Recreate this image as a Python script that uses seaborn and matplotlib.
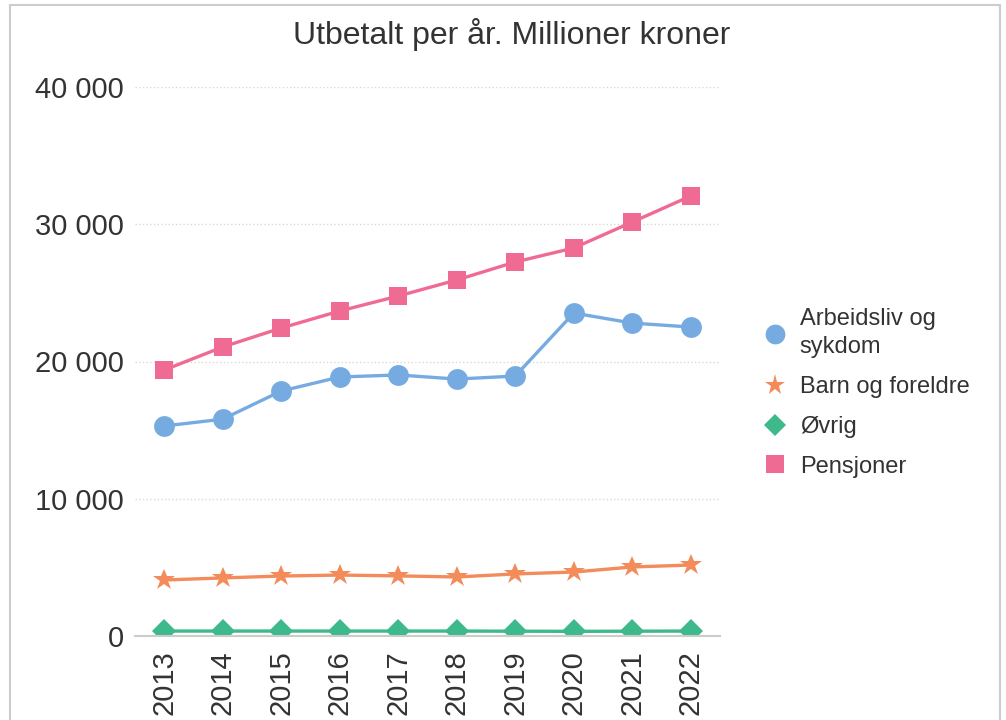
import pandas as pd
import seaborn as sns
import matplotlib.pyplot as plt
from matplotlib.lines import Line2D
from matplotlib.patches import Rectangle
from matplotlib.ticker import FuncFormatter

years = [2013, 2014, 2015, 2016, 2017, 2018, 2019, 2020, 2021, 2022]
arbeidsliv = [15300, 15800, 17850, 18870, 19020, 18720, 18940, 23530, 22800, 22510]
barn = [4080, 4230, 4370, 4440, 4380, 4300, 4520, 4660, 5030, 5170]
ovrig = [360, 360, 360, 360, 360, 360, 350, 340, 350, 360]
pensjoner = [19380, 21060, 22440, 23680, 24770, 25940, 27250, 28270, 30160, 32060]

series = ['Arbeidsliv og\nsykdom', 'Barn og foreldre', 'Øvrig', 'Pensjoner']
colors = ['#76ABE2', '#F38B5B', '#3EB98B', '#F06B93']
markers = ['o', '*', 'D', 's']
sizes = [15, 16.5, 12, 13.5]

df = pd.DataFrame({
    'year': years * 4,
    'value': arbeidsliv + barn + ovrig + pensjoner,
    'series': [s for s in series for _ in years],
})

sns.set_style('white')
plt.rcParams['font.family'] = ['Liberation Sans', 'DejaVu Sans']

fig = plt.figure(figsize=(10.06, 7.2), dpi=100)
ax = fig.add_axes([135 / 1006, 1 - 636 / 720, (720 - 135) / 1006, (636 - 87) / 720])

for s, c, m, ms in zip(series, colors, markers, sizes):
    d = df[df['series'] == s]
    sns.lineplot(data=d, x='year', y='value', color=c, marker=m, markersize=ms,
                 markeredgewidth=0, linewidth=2.4, ax=ax)

ax.set_xlim(2012.5, 2022.5)
ax.set_ylim(0, 40000)
ax.set_yticks([0, 10000, 20000, 30000, 40000])
ax.yaxis.set_major_formatter(FuncFormatter(lambda v, p: f'{int(v):,}'.replace(',', ' ')))
ax.set_xticks(years)
ax.set_xticklabels([str(y) for y in years], rotation=90)
ax.tick_params(axis='y', labelsize=21, length=0, pad=8, colors='#333333')
ax.tick_params(axis='x', labelsize=21, length=6, width=1, color='#cccccc', pad=4,
               labelcolor='#333333')
ax.set_xlabel('')
ax.set_ylabel('')
ax.grid(axis='y', color='#d9d9d9', linestyle=':', linewidth=1)
for side in ['top', 'right', 'left']:
    ax.spines[side].set_visible(False)
ax.spines['bottom'].set_color('#cccccc')
ax.spines['bottom'].set_linewidth(1.5)

handles = [Line2D([], [], linestyle='None', marker=m, color=c, markersize=ms * 0.95,
                  markeredgewidth=0) for c, m, ms in zip(colors, markers, sizes)]
leg = fig.legend(handles, series, loc='center left', bbox_to_anchor=(736 / 1006, 1 - 393 / 720),
                 frameon=False, fontsize=17, handletextpad=0.3, labelspacing=0.75,
                 handlelength=1.5, labelcolor='#333333')
for t in leg.get_texts():
    t.set_linespacing(1.35)

fig.suptitle('Utbetalt per år. Millioner kroner', x=512 / 1006, y=1 - 18 / 720,
             fontsize=23, color='#333333', va='top')

fig.patches.append(Rectangle((10 / 1006, -0.05), 990 / 1006, 1.05 - 5 / 720,
                             transform=fig.transFigure, fill=False,
                             edgecolor='#cccccc', linewidth=1.5))

fig.savefig('out.png', dpi=100)
